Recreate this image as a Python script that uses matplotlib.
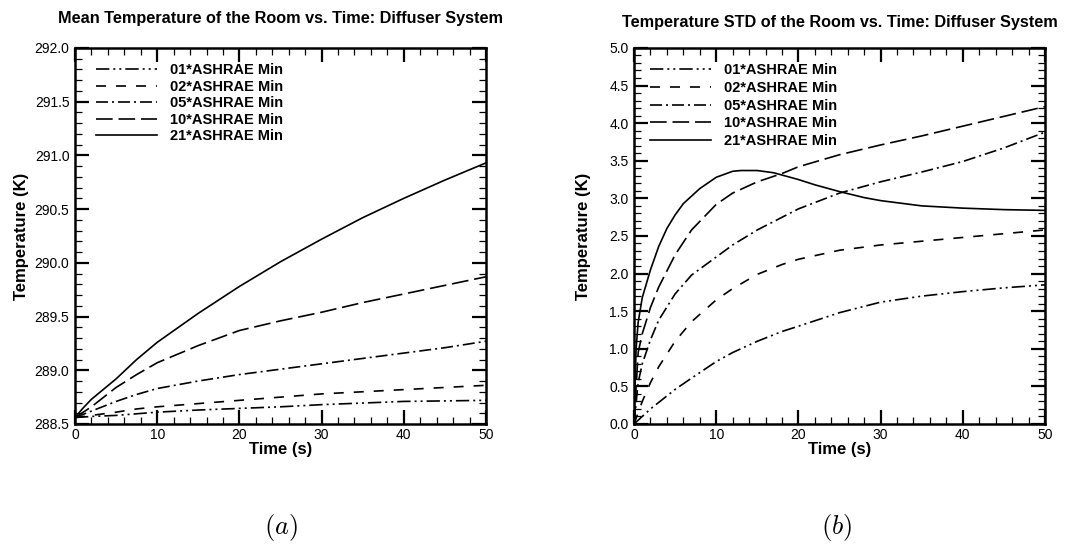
import matplotlib
matplotlib.use('Agg')
import matplotlib.pyplot as plt
from matplotlib.ticker import MultipleLocator

plt.rcParams['font.family'] = ['Liberation Sans', 'DejaVu Sans']
plt.rcParams['mathtext.fontset'] = 'cm'

labels = ['01*ASHRAE Min', '02*ASHRAE Min', '05*ASHRAE Min', '10*ASHRAE Min', '21*ASHRAE Min']

# (a) mean temperature
tA = [0, 1, 2, 5, 7.5, 10, 15, 20, 25, 30, 35, 40, 45, 50]
meanA01 = [288.56, 288.565, 288.57, 288.58, 288.595, 288.61, 288.63, 288.645, 288.66, 288.68, 288.695, 288.71, 288.715, 288.72]
meanA02 = [288.56, 288.57, 288.58, 288.61, 288.64, 288.66, 288.69, 288.72, 288.75, 288.78, 288.80, 288.82, 288.84, 288.86]
meanA05 = [288.56, 288.59, 288.62, 288.71, 288.775, 288.83, 288.90, 288.96, 289.01, 289.06, 289.11, 289.16, 289.21, 289.27]
meanA10 = [288.56, 288.61, 288.66, 288.84, 288.96, 289.07, 289.23, 289.37, 289.46, 289.54, 289.63, 289.71, 289.79, 289.87]
meanA21 = [288.56, 288.65, 288.73, 288.92, 289.10, 289.26, 289.53, 289.78, 290.01, 290.22, 290.42, 290.60, 290.77, 290.93]

# (b) temperature std
tB21 = [0, 0.25, 0.5, 1, 2, 3, 4, 5, 6, 7, 8, 10, 12, 13, 15, 17, 19, 20, 22, 25, 28, 30, 35, 40, 45, 50]
std21 = [0, 1.0, 1.35, 1.68, 2.05, 2.36, 2.6, 2.78, 2.93, 3.03, 3.13, 3.28, 3.36, 3.37, 3.37, 3.34, 3.28, 3.25, 3.18, 3.09, 3.01, 2.97, 2.90, 2.87, 2.85, 2.84]
tB10 = [0, 0.5, 1, 2, 3, 5, 7, 10, 12, 15, 18, 20, 25, 30, 35, 40, 45, 50]
std10 = [0, 0.95, 1.2, 1.55, 1.82, 2.25, 2.58, 2.92, 3.07, 3.22, 3.33, 3.42, 3.58, 3.71, 3.83, 3.96, 4.09, 4.22]
tB05 = [0, 0.5, 1, 2, 3, 5, 7, 10, 12, 15, 20, 25, 30, 35, 40, 45, 50]
std05 = [0, 0.55, 0.8, 1.12, 1.38, 1.73, 1.98, 2.22, 2.38, 2.58, 2.86, 3.07, 3.22, 3.35, 3.49, 3.67, 3.88]
tB02 = [0, 1, 2, 3, 5, 7, 10, 12, 15, 18, 20, 25, 30, 35, 40, 45, 50]
std02 = [0, 0.3, 0.55, 0.76, 1.1, 1.36, 1.65, 1.8, 1.99, 2.12, 2.19, 2.31, 2.38, 2.43, 2.48, 2.53, 2.58]
tB01 = [0, 1, 2, 5, 7, 10, 12, 15, 18, 20, 25, 30, 35, 40, 45, 50]
std01 = [0, 0.1, 0.2, 0.46, 0.61, 0.83, 0.95, 1.1, 1.23, 1.3, 1.48, 1.62, 1.70, 1.76, 1.81, 1.85]

styles = [(0, (8, 2.4, 1.2, 2.4, 1.2, 2.4)), (0, (6, 6)), (0, (7.2, 2.4, 1.2, 2.4)), (0, (10, 3.5)), '-']

fig = plt.figure(figsize=(10.73, 5.49), dpi=100)
ax1 = fig.add_axes([0.0699, 0.2277, 0.383, 0.685])
ax2 = fig.add_axes([0.5909, 0.2277, 0.383, 0.685])

seriesA = [meanA01, meanA02, meanA05, meanA10, meanA21]
for y, ls, lab in zip(seriesA, styles, labels):
    ax1.plot(tA, y, color='black', lw=1.2, linestyle=ls, label=lab)

seriesB = [(tB01, std01), (tB02, std02), (tB05, std05), (tB10, std10), (tB21, std21)]
for (t, y), ls, lab in zip(seriesB, styles, labels):
    ax2.plot(t, y, color='black', lw=1.2, linestyle=ls, label=lab)

ax1.set_xlim(0, 50)
ax1.set_ylim(288.5, 292.0)
ax1.set_title('Mean Temperature of the Room vs. Time: Diffuser System', fontsize=11.7, fontweight='bold', pad=18)

ax2.set_xlim(0, 50)
ax2.set_ylim(0, 5.0)
ax2.set_title('Temperature STD of the Room vs. Time: Diffuser System', fontsize=11.7, fontweight='bold', pad=15)

for ax in (ax1, ax2):
    ax.yaxis.set_major_locator(MultipleLocator(0.5))
    ax.yaxis.set_minor_locator(MultipleLocator(0.1))
    ax.yaxis.set_major_formatter(matplotlib.ticker.FormatStrFormatter('%.1f'))
    ax.xaxis.set_major_locator(MultipleLocator(10))
    ax.xaxis.set_minor_locator(MultipleLocator(2))
    ax.tick_params(which='both', direction='in', top=True, right=True, labelsize=10)
    ax.tick_params(which='major', length=10, width=1.6)
    ax.tick_params(which='minor', length=5, width=0.9)
    ax.tick_params(axis='x', pad=3)
    ax.tick_params(axis='y', pad=4)
    for s in ax.spines.values():
        s.set_linewidth(1.8)
    ax.set_xlabel('Time (s)', fontsize=12, fontweight='bold', labelpad=0)

ax1.set_ylabel('Temperature (K)', fontsize=12, fontweight='bold', labelpad=4)
ax2.set_ylabel('Temperature (K)', fontsize=12, fontweight='bold', labelpad=13)

ax1.legend(loc='upper left', frameon=False, prop={'weight': 'bold', 'size': 10.5},
           handlelength=4.2, handletextpad=0.9, labelspacing=0.17,
           borderaxespad=0.4, bbox_to_anchor=(0.022, 0.99))
ax2.legend(loc='upper left', frameon=False, prop={'weight': 'bold', 'size': 10.5},
           handlelength=4.2, handletextpad=0.9, labelspacing=0.25,
           borderaxespad=0.4, bbox_to_anchor=(0.01, 0.99))

fig.text(0.262, 0.04, r'$(a)$', fontsize=19, ha='center', va='center')
fig.text(0.78, 0.04, r'$(b)$', fontsize=19, ha='center', va='center')

fig.savefig('out.png', dpi=100)
